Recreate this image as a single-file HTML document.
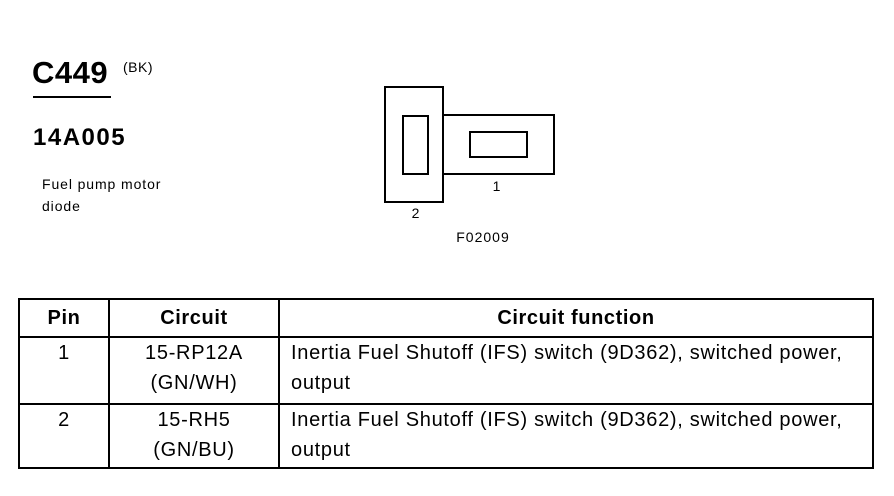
<!DOCTYPE html>
<html><head><style>
body{margin:0;width:894px;height:496px;background:#fff;position:relative;font-family:"Liberation Sans",Arial,sans-serif;color:#000;overflow:hidden}
.a{position:absolute;white-space:nowrap}
table{position:absolute;left:18px;top:298px;border-collapse:collapse;font-size:20px;letter-spacing:0.7px}
td,th{border:2px solid #000;padding:0;line-height:30px;vertical-align:top}
th{height:36px;line-height:36px;font-size:20px;letter-spacing:0.6px}
</style></head><body>
<div class="a" style="left:32px;top:55px;font-size:31px;font-weight:bold;letter-spacing:0.5px">C449</div>
<div class="a" style="left:123px;top:59px;font-size:14px;letter-spacing:0.5px">(BK)</div>
<div class="a" style="left:33px;top:96px;width:78px;height:2px;background:#000"></div>
<div class="a" style="left:33px;top:124px;font-size:24px;font-weight:bold;letter-spacing:1.5px">14A005</div>
<div class="a" style="left:42px;top:173px;font-size:14px;line-height:22px;letter-spacing:0.9px">Fuel pump motor<br>diode</div>
<svg class="a" style="left:0;top:0" width="894" height="290">
<g fill="none" stroke="#000" stroke-width="2">
<rect x="385" y="87" width="58" height="115"/>
<rect x="403" y="116" width="25" height="58"/>
<rect x="443" y="115" width="111" height="59"/>
<rect x="470" y="132" width="57" height="25"/>
</g>
<g font-size="14" text-anchor="middle" font-family="Liberation Sans" letter-spacing="1">
<text x="497" y="191">1</text>
<text x="416" y="218">2</text>
<text x="483" y="242">F02009</text>
</g>
</svg>
<table>
<tr><th style="width:88px">Pin</th><th style="width:168px">Circuit</th><th style="width:592px">Circuit function</th></tr>
<tr style="height:67px"><td style="text-align:center">1</td><td style="text-align:center">15-RP12A<br>(GN/WH)</td><td style="padding-left:11px">Inertia Fuel Shutoff (IFS) switch (9D362), switched power,<br>output</td></tr>
<tr style="height:64px"><td style="text-align:center">2</td><td style="text-align:center">15-RH5<br>(GN/BU)</td><td style="padding-left:11px">Inertia Fuel Shutoff (IFS) switch (9D362), switched power,<br>output</td></tr>
</table>
</body></html>
